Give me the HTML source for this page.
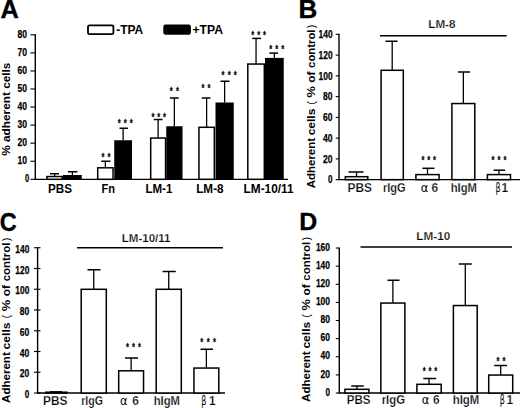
<!DOCTYPE html>
<html><head><meta charset="utf-8"><title>Figure</title>
<style>
html,body{margin:0;padding:0;background:#fff;}
body{width:520px;height:408px;overflow:hidden;}
svg{display:block;}
text{font-family:"Liberation Sans",sans-serif;fill:#000;stroke:none;}
.tk{stroke:#000;stroke-width:0.25px;}
.st{stroke:#000;stroke-width:0.25px;stroke-linejoin:round;}
.big{stroke:#000;stroke-width:0.35px;}
.lt{stroke:#fff;stroke-width:0.25px;}
</style></head><body>
<svg width="520" height="408" viewBox="0 0 520 408">
<rect x="0" y="0" width="520" height="408" fill="#fff"/>
<text x="0.5" y="17.7" font-size="26" font-weight="bold" text-anchor="start" textLength="18.3" lengthAdjust="spacingAndGlyphs" class="big">A</text>
<line x1="35.3" y1="34.32" x2="35.3" y2="180.0" stroke="#000" stroke-width="1.4"/>
<line x1="34.699999999999996" y1="179.3" x2="288" y2="179.3" stroke="#000" stroke-width="1.35"/>
<line x1="30.4" y1="179.3" x2="35.3" y2="179.3" stroke="#000" stroke-width="1.1"/>
<text x="29.1" y="182.22" font-size="10.4" font-weight="bold" text-anchor="end" textLength="4.2" lengthAdjust="spacingAndGlyphs" class="tk">0</text>
<line x1="30.4" y1="161.24" x2="35.3" y2="161.24" stroke="#000" stroke-width="1.1"/>
<text x="27.1" y="164.46" font-size="10.4" font-weight="bold" text-anchor="end" textLength="9.5" lengthAdjust="spacingAndGlyphs" class="tk">10</text>
<line x1="30.4" y1="143.18" x2="35.3" y2="143.18" stroke="#000" stroke-width="1.1"/>
<text x="27.1" y="146.4" font-size="10.4" font-weight="bold" text-anchor="end" textLength="9.5" lengthAdjust="spacingAndGlyphs" class="tk">20</text>
<line x1="30.4" y1="125.12" x2="35.3" y2="125.12" stroke="#000" stroke-width="1.1"/>
<text x="27.1" y="128.34" font-size="10.4" font-weight="bold" text-anchor="end" textLength="9.5" lengthAdjust="spacingAndGlyphs" class="tk">30</text>
<line x1="30.4" y1="107.06" x2="35.3" y2="107.06" stroke="#000" stroke-width="1.1"/>
<text x="27.1" y="110.28" font-size="10.4" font-weight="bold" text-anchor="end" textLength="9.5" lengthAdjust="spacingAndGlyphs" class="tk">40</text>
<line x1="30.4" y1="89.0" x2="35.3" y2="89.0" stroke="#000" stroke-width="1.1"/>
<text x="27.1" y="92.22" font-size="10.4" font-weight="bold" text-anchor="end" textLength="9.5" lengthAdjust="spacingAndGlyphs" class="tk">50</text>
<line x1="30.4" y1="70.94" x2="35.3" y2="70.94" stroke="#000" stroke-width="1.1"/>
<text x="27.1" y="74.16" font-size="10.4" font-weight="bold" text-anchor="end" textLength="9.5" lengthAdjust="spacingAndGlyphs" class="tk">60</text>
<line x1="30.4" y1="52.88" x2="35.3" y2="52.88" stroke="#000" stroke-width="1.1"/>
<text x="27.1" y="56.1" font-size="10.4" font-weight="bold" text-anchor="end" textLength="9.5" lengthAdjust="spacingAndGlyphs" class="tk">70</text>
<line x1="30.4" y1="34.82" x2="35.3" y2="34.82" stroke="#000" stroke-width="1.1"/>
<text x="27.1" y="38.04" font-size="10.4" font-weight="bold" text-anchor="end" textLength="9.5" lengthAdjust="spacingAndGlyphs" class="tk">80</text>
<text transform="translate(10.0,109.2) rotate(-90)" font-size="11.7" font-weight="bold" text-anchor="middle" textLength="93.2" lengthAdjust="spacingAndGlyphs">% adherent cells</text>
<rect x="88" y="25.3" width="25.4" height="8.9" rx="1.5" fill="#fff" stroke="#000" stroke-width="1.8"/>
<text x="116.2" y="34.2" font-size="12" font-weight="bold" text-anchor="start" textLength="27" lengthAdjust="spacingAndGlyphs">-TPA</text>
<rect x="164" y="25.2" width="26.2" height="8.8" rx="1.5" fill="#000" stroke="#000" stroke-width="1.4"/>
<text x="192.5" y="34.2" font-size="12" font-weight="bold" text-anchor="start" textLength="30.5" lengthAdjust="spacingAndGlyphs">+TPA</text>
<line x1="54.62" y1="173.75" x2="54.62" y2="176.25" stroke="#000" stroke-width="1.3"/>
<line x1="50" y1="173.75" x2="59" y2="173.75" stroke="#000" stroke-width="1.5"/>
<rect x="46.95" y="176.55" width="15.35" height="2.75" rx="0" fill="#fff" stroke="#000" stroke-width="1.5"/>
<line x1="72.38" y1="171.75" x2="72.38" y2="175" stroke="#000" stroke-width="1.3"/>
<line x1="68" y1="171.75" x2="77.5" y2="171.75" stroke="#000" stroke-width="1.5"/>
<rect x="63" y="175" width="18.75" height="4.3" fill="#000"/>
<line x1="105.38" y1="161.25" x2="105.38" y2="167.5" stroke="#000" stroke-width="1.3"/>
<line x1="101.25" y1="161.25" x2="110.5" y2="161.25" stroke="#000" stroke-width="1.5"/>
<rect x="97.7" y="167.8" width="15.35" height="11.5" rx="0" fill="#fff" stroke="#000" stroke-width="1.5"/>
<line x1="123.12" y1="128.25" x2="123.12" y2="140.25" stroke="#000" stroke-width="1.3"/>
<line x1="119.5" y1="128.25" x2="128" y2="128.25" stroke="#000" stroke-width="1.5"/>
<rect x="114.25" y="140.25" width="17.75" height="39.05" fill="#000"/>
<line x1="158.12" y1="119.5" x2="158.12" y2="137.75" stroke="#000" stroke-width="1.3"/>
<line x1="153.75" y1="119.5" x2="162.5" y2="119.5" stroke="#000" stroke-width="1.5"/>
<rect x="150.7" y="138.05" width="14.85" height="41.25" rx="0" fill="#fff" stroke="#000" stroke-width="1.5"/>
<line x1="174.38" y1="98" x2="174.38" y2="126.25" stroke="#000" stroke-width="1.3"/>
<line x1="170" y1="98" x2="178.75" y2="98" stroke="#000" stroke-width="1.5"/>
<rect x="166.25" y="126.25" width="16.25" height="53.05" fill="#000"/>
<line x1="206.62" y1="98" x2="206.62" y2="127" stroke="#000" stroke-width="1.3"/>
<line x1="201.75" y1="98" x2="210.5" y2="98" stroke="#000" stroke-width="1.5"/>
<rect x="198.95" y="127.3" width="15.35" height="52.0" rx="0" fill="#fff" stroke="#000" stroke-width="1.5"/>
<line x1="224.62" y1="81.25" x2="224.62" y2="102.5" stroke="#000" stroke-width="1.3"/>
<line x1="220.5" y1="81.25" x2="229.5" y2="81.25" stroke="#000" stroke-width="1.5"/>
<rect x="215.5" y="102.5" width="18.25" height="76.8" fill="#000"/>
<line x1="256.05" y1="38.4" x2="256.05" y2="63.75" stroke="#000" stroke-width="1.3"/>
<line x1="252.25" y1="38.4" x2="261" y2="38.4" stroke="#000" stroke-width="1.5"/>
<rect x="247.8" y="64.05" width="16.5" height="115.25" rx="0" fill="#fff" stroke="#000" stroke-width="1.5"/>
<line x1="274.38" y1="53.1" x2="274.38" y2="57.9" stroke="#000" stroke-width="1.3"/>
<line x1="269.4" y1="53.1" x2="278.1" y2="53.1" stroke="#000" stroke-width="1.5"/>
<rect x="265" y="57.9" width="18.75" height="121.4" fill="#000"/>
<text transform="scale(0.66,1)" x="155.98 165.23" y="161.35" font-size="11.5" font-weight="bold" text-anchor="middle" class="st">**</text>
<text transform="scale(0.66,1)" x="180.61 189.77 198.94" y="127.1" font-size="11.5" font-weight="bold" text-anchor="middle" class="st">***</text>
<text transform="scale(0.66,1)" x="231.74 240.53 249.32" y="120.6" font-size="11.5" font-weight="bold" text-anchor="middle" class="st">***</text>
<text transform="scale(0.66,1)" x="259.39 269.02" y="95.1" font-size="11.5" font-weight="bold" text-anchor="middle" class="st">**</text>
<text transform="scale(0.66,1)" x="307.5 316.74" y="91.85" font-size="11.5" font-weight="bold" text-anchor="middle" class="st">**</text>
<text transform="scale(0.66,1)" x="337.8 347.16 356.52" y="79.35" font-size="11.5" font-weight="bold" text-anchor="middle" class="st">***</text>
<text transform="scale(0.66,1)" x="382.88 391.86 400.83" y="38.7" font-size="11.5" font-weight="bold" text-anchor="middle" class="st">***</text>
<text transform="scale(0.66,1)" x="410.15 419.32 428.48" y="52.9" font-size="11.5" font-weight="bold" text-anchor="middle" class="st">***</text>
<text x="48" y="192.7" font-size="12" font-weight="bold" text-anchor="start" textLength="24" lengthAdjust="spacingAndGlyphs">PBS</text>
<text x="101.5" y="192.7" font-size="12" font-weight="bold" text-anchor="start" textLength="13.5" lengthAdjust="spacingAndGlyphs">Fn</text>
<text x="145.4" y="192.7" font-size="12" font-weight="bold" text-anchor="start" textLength="27" lengthAdjust="spacingAndGlyphs">LM-1</text>
<text x="196.2" y="192.7" font-size="12" font-weight="bold" text-anchor="start" textLength="27.4" lengthAdjust="spacingAndGlyphs">LM-8</text>
<text x="243.6" y="192.7" font-size="12" font-weight="bold" text-anchor="start" textLength="50" lengthAdjust="spacingAndGlyphs">LM-10/11</text>
<text x="298.4" y="17.6" font-size="26" font-weight="bold" text-anchor="start" textLength="18.8" lengthAdjust="spacingAndGlyphs" class="big">B</text>
<line x1="339.0" y1="33.83" x2="339.0" y2="180.25" stroke="#000" stroke-width="1.4"/>
<line x1="338.4" y1="179.65" x2="520" y2="179.65" stroke="#000" stroke-width="1.4"/>
<line x1="335.7" y1="179.65" x2="339.0" y2="179.65" stroke="#000" stroke-width="1.1"/>
<text x="332.6" y="183.37" font-size="10.4" font-weight="bold" text-anchor="end" textLength="4.5" lengthAdjust="spacingAndGlyphs" class="tk">0</text>
<line x1="335.7" y1="158.89" x2="339.0" y2="158.89" stroke="#000" stroke-width="1.1"/>
<text x="332.6" y="162.61" font-size="10.4" font-weight="bold" text-anchor="end" textLength="9.5" lengthAdjust="spacingAndGlyphs" class="tk">20</text>
<line x1="335.7" y1="138.13" x2="339.0" y2="138.13" stroke="#000" stroke-width="1.1"/>
<text x="332.6" y="141.85" font-size="10.4" font-weight="bold" text-anchor="end" textLength="9.5" lengthAdjust="spacingAndGlyphs" class="tk">40</text>
<line x1="335.7" y1="117.37" x2="339.0" y2="117.37" stroke="#000" stroke-width="1.1"/>
<text x="332.6" y="121.09" font-size="10.4" font-weight="bold" text-anchor="end" textLength="9.5" lengthAdjust="spacingAndGlyphs" class="tk">60</text>
<line x1="335.7" y1="96.61" x2="339.0" y2="96.61" stroke="#000" stroke-width="1.1"/>
<text x="332.6" y="100.33" font-size="10.4" font-weight="bold" text-anchor="end" textLength="9.5" lengthAdjust="spacingAndGlyphs" class="tk">80</text>
<line x1="335.7" y1="75.85" x2="339.0" y2="75.85" stroke="#000" stroke-width="1.1"/>
<text x="332.6" y="79.57" font-size="10.4" font-weight="bold" text-anchor="end" textLength="14.0" lengthAdjust="spacingAndGlyphs" class="tk">100</text>
<line x1="335.7" y1="55.09" x2="339.0" y2="55.09" stroke="#000" stroke-width="1.1"/>
<text x="332.6" y="58.81" font-size="10.4" font-weight="bold" text-anchor="end" textLength="14.0" lengthAdjust="spacingAndGlyphs" class="tk">120</text>
<line x1="335.7" y1="34.33" x2="339.0" y2="34.33" stroke="#000" stroke-width="1.1"/>
<text x="332.6" y="38.05" font-size="10.4" font-weight="bold" text-anchor="end" textLength="14.0" lengthAdjust="spacingAndGlyphs" class="tk">140</text>
<text transform="translate(314.75,0) rotate(-90)" font-size="11.7" font-weight="bold"><tspan x="-188.2" textLength="50.2" lengthAdjust="spacingAndGlyphs" font-weight="bold" font-size="11.7">Adherent</tspan><tspan x="-135.35" textLength="26.75" lengthAdjust="spacingAndGlyphs" font-weight="bold" font-size="11.7">cells</tspan><tspan x="-102.85" text-anchor="middle" font-weight="normal" font-size="10.8">(</tspan><tspan x="-97.6" textLength="11.4" lengthAdjust="spacingAndGlyphs" font-weight="bold" font-size="11.7">%</tspan><tspan x="-82.7" textLength="11.2" lengthAdjust="spacingAndGlyphs" font-weight="bold" font-size="11.7">of</tspan><tspan x="-67.9" textLength="38.4" lengthAdjust="spacingAndGlyphs" font-weight="bold" font-size="11.7">control</tspan><tspan x="-26.35" text-anchor="middle" font-weight="normal" font-size="10.8">)</tspan></text>
<text x="428.25" y="28" font-size="11.5" font-weight="bold" text-anchor="start" textLength="27.25" lengthAdjust="spacingAndGlyphs" class="lt">LM-8</text>
<line x1="380" y1="35.75" x2="506.75" y2="35.75" stroke="#000" stroke-width="1.3"/>
<line x1="356.55" y1="172" x2="356.55" y2="176.4" stroke="#000" stroke-width="1.3"/>
<line x1="348.5" y1="172" x2="363.5" y2="172" stroke="#000" stroke-width="1.5"/>
<rect x="345.3" y="176.7" width="22.5" height="2.95" rx="0" fill="#fff" stroke="#000" stroke-width="1.5"/>
<line x1="392.2" y1="41.25" x2="392.2" y2="70" stroke="#000" stroke-width="1.3"/>
<line x1="385.5" y1="41.25" x2="397.5" y2="41.25" stroke="#000" stroke-width="1.5"/>
<rect x="381.1" y="70.3" width="22.2" height="109.35" rx="0" fill="#fff" stroke="#000" stroke-width="1.5"/>
<line x1="427.5" y1="168.3" x2="427.5" y2="174.3" stroke="#000" stroke-width="1.3"/>
<line x1="422.4" y1="168.3" x2="434.5" y2="168.3" stroke="#000" stroke-width="1.5"/>
<rect x="415.9" y="174.6" width="23.2" height="5.05" rx="0" fill="#fff" stroke="#000" stroke-width="1.5"/>
<line x1="463.35" y1="72" x2="463.35" y2="103.25" stroke="#000" stroke-width="1.3"/>
<line x1="458" y1="72" x2="470" y2="72" stroke="#000" stroke-width="1.5"/>
<rect x="451.9" y="103.55" width="22.9" height="76.1" rx="0" fill="#fff" stroke="#000" stroke-width="1.5"/>
<line x1="498.95" y1="170.2" x2="498.95" y2="174.3" stroke="#000" stroke-width="1.3"/>
<line x1="493.6" y1="170.2" x2="505.2" y2="170.2" stroke="#000" stroke-width="1.5"/>
<rect x="487.4" y="174.6" width="23.1" height="5.05" rx="0" fill="#fff" stroke="#000" stroke-width="1.5"/>
<text transform="scale(0.66,1)" x="640.83 649.62 658.41" y="164.5" font-size="11.5" font-weight="bold" text-anchor="middle" class="st">***</text>
<text transform="scale(0.66,1)" x="746.89 756.06 765.23" y="164.5" font-size="11.5" font-weight="bold" text-anchor="middle" class="st">***</text>
<text x="347.5" y="191.8" font-size="12" font-weight="bold" text-anchor="start" textLength="24.5" lengthAdjust="spacingAndGlyphs" class="lt">PBS</text>
<text x="383" y="191.8" font-size="12" font-weight="bold" text-anchor="start" textLength="22.5" lengthAdjust="spacingAndGlyphs" class="lt">rIgG</text>
<text x="420.8" y="191.8" font-size="11.5" font-weight="normal" style="font-family:'DejaVu Sans',sans-serif" textLength="7.6" lengthAdjust="spacingAndGlyphs">α</text>
<text x="431.6" y="191.8" font-size="12" font-weight="bold" text-anchor="start" textLength="6.6" lengthAdjust="spacingAndGlyphs" class="lt">6</text>
<text x="450.75" y="191.8" font-size="12" font-weight="bold" text-anchor="start" textLength="26.25" lengthAdjust="spacingAndGlyphs" class="lt">hIgM</text>
<text x="495.4" y="191.8" font-size="11.5" font-weight="normal" style="font-family:'DejaVu Sans',sans-serif" textLength="5.1" lengthAdjust="spacingAndGlyphs">β</text>
<text x="501.6" y="191.8" font-size="12" font-weight="bold" text-anchor="start" textLength="6.6" lengthAdjust="spacingAndGlyphs" class="lt">1</text>
<text x="-0.3" y="230.6" font-size="26" font-weight="bold" text-anchor="start" textLength="16.9" lengthAdjust="spacingAndGlyphs" class="big">C</text>
<line x1="37.6" y1="247.25" x2="37.6" y2="393.6" stroke="#000" stroke-width="1.4"/>
<line x1="37.0" y1="393" x2="225" y2="393" stroke="#000" stroke-width="1.4"/>
<line x1="34.0" y1="393.0" x2="40.5" y2="393.0" stroke="#000" stroke-width="1.1"/>
<text x="29.3" y="398.12" font-size="10.4" font-weight="bold" text-anchor="end" textLength="4.5" lengthAdjust="spacingAndGlyphs" class="tk">0</text>
<line x1="34.0" y1="372.25" x2="40.5" y2="372.25" stroke="#000" stroke-width="1.1"/>
<text x="29.3" y="377.37" font-size="10.4" font-weight="bold" text-anchor="end" textLength="9.5" lengthAdjust="spacingAndGlyphs" class="tk">20</text>
<line x1="34.0" y1="351.5" x2="40.5" y2="351.5" stroke="#000" stroke-width="1.1"/>
<text x="29.3" y="356.62" font-size="10.4" font-weight="bold" text-anchor="end" textLength="9.5" lengthAdjust="spacingAndGlyphs" class="tk">40</text>
<line x1="34.0" y1="330.75" x2="40.5" y2="330.75" stroke="#000" stroke-width="1.1"/>
<text x="29.3" y="335.87" font-size="10.4" font-weight="bold" text-anchor="end" textLength="9.5" lengthAdjust="spacingAndGlyphs" class="tk">60</text>
<line x1="34.0" y1="310.0" x2="40.5" y2="310.0" stroke="#000" stroke-width="1.1"/>
<text x="29.3" y="315.12" font-size="10.4" font-weight="bold" text-anchor="end" textLength="9.5" lengthAdjust="spacingAndGlyphs" class="tk">80</text>
<line x1="34.0" y1="289.25" x2="40.5" y2="289.25" stroke="#000" stroke-width="1.1"/>
<text x="29.3" y="294.37" font-size="10.4" font-weight="bold" text-anchor="end" textLength="14.0" lengthAdjust="spacingAndGlyphs" class="tk">100</text>
<line x1="34.0" y1="268.5" x2="40.5" y2="268.5" stroke="#000" stroke-width="1.1"/>
<text x="29.3" y="273.62" font-size="10.4" font-weight="bold" text-anchor="end" textLength="14.0" lengthAdjust="spacingAndGlyphs" class="tk">120</text>
<line x1="34.0" y1="247.75" x2="40.5" y2="247.75" stroke="#000" stroke-width="1.1"/>
<text x="29.3" y="252.87" font-size="10.4" font-weight="bold" text-anchor="end" textLength="14.0" lengthAdjust="spacingAndGlyphs" class="tk">140</text>
<text transform="translate(9.6,0) rotate(-90)" font-size="11.7" font-weight="bold"><tspan x="-402.95" textLength="50.73" lengthAdjust="spacingAndGlyphs" font-weight="bold" font-size="11.7">Adherent</tspan><tspan x="-349.53" textLength="27.03" lengthAdjust="spacingAndGlyphs" font-weight="bold" font-size="11.7">cells</tspan><tspan x="-316.69" text-anchor="middle" font-weight="normal" font-size="10.8">(</tspan><tspan x="-311.38" textLength="11.51" lengthAdjust="spacingAndGlyphs" font-weight="bold" font-size="11.7">%</tspan><tspan x="-296.32" textLength="11.31" lengthAdjust="spacingAndGlyphs" font-weight="bold" font-size="11.7">of</tspan><tspan x="-281.36" textLength="38.8" lengthAdjust="spacingAndGlyphs" font-weight="bold" font-size="11.7">control</tspan><tspan x="-239.37" text-anchor="middle" font-weight="normal" font-size="10.8">)</tspan></text>
<text x="121.75" y="242" font-size="11.5" font-weight="bold" text-anchor="start" textLength="48.75" lengthAdjust="spacingAndGlyphs" class="lt">LM-10/11</text>
<line x1="77" y1="247.75" x2="223" y2="247.75" stroke="#000" stroke-width="1.3"/>
<line x1="56.25" y1="391.9" x2="56.25" y2="391.9" stroke="#000" stroke-width="1.3"/>
<line x1="50" y1="391.9" x2="62" y2="391.9" stroke="#000" stroke-width="1.5"/>
<rect x="45.7" y="392.2" width="21.1" height="0.8" rx="0" fill="#fff" stroke="#000" stroke-width="1.5"/>
<line x1="93.75" y1="269.75" x2="93.75" y2="289" stroke="#000" stroke-width="1.3"/>
<line x1="87.5" y1="269.75" x2="100.5" y2="269.75" stroke="#000" stroke-width="1.5"/>
<rect x="81.2" y="289.3" width="25.1" height="103.7" rx="0" fill="#fff" stroke="#000" stroke-width="1.5"/>
<line x1="131.12" y1="358" x2="131.12" y2="370.5" stroke="#000" stroke-width="1.3"/>
<line x1="125" y1="358" x2="138" y2="358" stroke="#000" stroke-width="1.5"/>
<rect x="118.7" y="370.8" width="24.85" height="22.2" rx="0" fill="#fff" stroke="#000" stroke-width="1.5"/>
<line x1="168.75" y1="271.5" x2="168.75" y2="289" stroke="#000" stroke-width="1.3"/>
<line x1="162.5" y1="271.5" x2="175.75" y2="271.5" stroke="#000" stroke-width="1.5"/>
<rect x="156.2" y="289.3" width="25.1" height="103.7" rx="0" fill="#fff" stroke="#000" stroke-width="1.5"/>
<line x1="206.38" y1="349.25" x2="206.38" y2="367.75" stroke="#000" stroke-width="1.3"/>
<line x1="200.5" y1="349.25" x2="213" y2="349.25" stroke="#000" stroke-width="1.5"/>
<rect x="193.95" y="368.05" width="24.85" height="24.95" rx="0" fill="#fff" stroke="#000" stroke-width="1.5"/>
<text transform="scale(0.66,1)" x="193.11 202.27 211.44" y="351.1" font-size="11.5" font-weight="bold" text-anchor="middle" class="st">***</text>
<text transform="scale(0.66,1)" x="305.61 315.34 325.08" y="345.7" font-size="11.5" font-weight="bold" text-anchor="middle" class="st">***</text>
<text x="43" y="404.6" font-size="12" font-weight="bold" text-anchor="start" textLength="24.5" lengthAdjust="spacingAndGlyphs" class="lt">PBS</text>
<text x="81.25" y="404.6" font-size="12" font-weight="bold" text-anchor="start" textLength="21.75" lengthAdjust="spacingAndGlyphs" class="lt">rIgG</text>
<text x="120" y="404.6" font-size="11.5" font-weight="normal" style="font-family:'DejaVu Sans',sans-serif" textLength="7.6" lengthAdjust="spacingAndGlyphs">α</text>
<text x="132.35" y="404.6" font-size="12" font-weight="bold" text-anchor="start" textLength="6.6" lengthAdjust="spacingAndGlyphs" class="lt">6</text>
<text x="153.75" y="404.6" font-size="12" font-weight="bold" text-anchor="start" textLength="26.25" lengthAdjust="spacingAndGlyphs" class="lt">hIgM</text>
<text x="201.25" y="404.6" font-size="11.5" font-weight="normal" style="font-family:'DejaVu Sans',sans-serif" textLength="5.1" lengthAdjust="spacingAndGlyphs">β</text>
<text x="209.1" y="404.6" font-size="12" font-weight="bold" text-anchor="start" textLength="6.6" lengthAdjust="spacingAndGlyphs" class="lt">1</text>
<text x="299.3" y="230.3" font-size="24.3" font-weight="bold" text-anchor="start" textLength="18.0" lengthAdjust="spacingAndGlyphs" class="big">D</text>
<line x1="339.3" y1="247.54" x2="339.3" y2="393.6" stroke="#000" stroke-width="1.4"/>
<line x1="338.7" y1="393.0" x2="520" y2="393.0" stroke="#000" stroke-width="1.4"/>
<line x1="335.8" y1="393.0" x2="339.3" y2="393.0" stroke="#000" stroke-width="1.1"/>
<text x="329.9" y="395.62" font-size="10.4" font-weight="bold" text-anchor="end" textLength="4.5" lengthAdjust="spacingAndGlyphs" class="tk">0</text>
<line x1="335.8" y1="374.88" x2="339.3" y2="374.88" stroke="#000" stroke-width="1.1"/>
<text x="329.9" y="377.5" font-size="10.4" font-weight="bold" text-anchor="end" textLength="9.5" lengthAdjust="spacingAndGlyphs" class="tk">20</text>
<line x1="335.8" y1="356.76" x2="339.3" y2="356.76" stroke="#000" stroke-width="1.1"/>
<text x="329.9" y="359.38" font-size="10.4" font-weight="bold" text-anchor="end" textLength="9.5" lengthAdjust="spacingAndGlyphs" class="tk">40</text>
<line x1="335.8" y1="338.64" x2="339.3" y2="338.64" stroke="#000" stroke-width="1.1"/>
<text x="329.9" y="341.26" font-size="10.4" font-weight="bold" text-anchor="end" textLength="9.5" lengthAdjust="spacingAndGlyphs" class="tk">60</text>
<line x1="335.8" y1="320.52" x2="339.3" y2="320.52" stroke="#000" stroke-width="1.1"/>
<text x="329.9" y="323.14" font-size="10.4" font-weight="bold" text-anchor="end" textLength="9.5" lengthAdjust="spacingAndGlyphs" class="tk">80</text>
<line x1="335.8" y1="302.4" x2="339.3" y2="302.4" stroke="#000" stroke-width="1.1"/>
<text x="329.9" y="305.02" font-size="10.4" font-weight="bold" text-anchor="end" textLength="14.0" lengthAdjust="spacingAndGlyphs" class="tk">100</text>
<line x1="335.8" y1="284.28" x2="339.3" y2="284.28" stroke="#000" stroke-width="1.1"/>
<text x="329.9" y="286.9" font-size="10.4" font-weight="bold" text-anchor="end" textLength="14.0" lengthAdjust="spacingAndGlyphs" class="tk">120</text>
<line x1="335.8" y1="266.16" x2="339.3" y2="266.16" stroke="#000" stroke-width="1.1"/>
<text x="329.9" y="268.78" font-size="10.4" font-weight="bold" text-anchor="end" textLength="14.0" lengthAdjust="spacingAndGlyphs" class="tk">140</text>
<line x1="335.8" y1="248.04" x2="339.3" y2="248.04" stroke="#000" stroke-width="1.1"/>
<text x="329.9" y="250.66" font-size="10.4" font-weight="bold" text-anchor="end" textLength="14.0" lengthAdjust="spacingAndGlyphs" class="tk">160</text>
<text transform="translate(309.5,0) rotate(-90)" font-size="11.7" font-weight="bold"><tspan x="-401.9" textLength="50.59" lengthAdjust="spacingAndGlyphs" font-weight="bold" font-size="11.7">Adherent</tspan><tspan x="-348.63" textLength="26.96" lengthAdjust="spacingAndGlyphs" font-weight="bold" font-size="11.7">cells</tspan><tspan x="-315.87" text-anchor="middle" font-weight="normal" font-size="10.8">(</tspan><tspan x="-310.58" textLength="11.48" lengthAdjust="spacingAndGlyphs" font-weight="bold" font-size="11.7">%</tspan><tspan x="-295.56" textLength="11.28" lengthAdjust="spacingAndGlyphs" font-weight="bold" font-size="11.7">of</tspan><tspan x="-280.64" textLength="38.7" lengthAdjust="spacingAndGlyphs" font-weight="bold" font-size="11.7">control</tspan><tspan x="-238.76" text-anchor="middle" font-weight="normal" font-size="10.8">)</tspan></text>
<text x="416.3" y="240.3" font-size="11.5" font-weight="bold" text-anchor="start" textLength="33.9" lengthAdjust="spacingAndGlyphs" class="lt">LM-10</text>
<line x1="360.5" y1="247" x2="512" y2="247" stroke="#000" stroke-width="1.3"/>
<line x1="356.92" y1="386" x2="356.92" y2="389" stroke="#000" stroke-width="1.3"/>
<line x1="351.25" y1="386" x2="363.75" y2="386" stroke="#000" stroke-width="1.5"/>
<rect x="344.9" y="389.3" width="24.05" height="3.7" rx="0" fill="#fff" stroke="#000" stroke-width="1.5"/>
<line x1="392.88" y1="280.25" x2="392.88" y2="302.75" stroke="#000" stroke-width="1.3"/>
<line x1="387.5" y1="280.25" x2="399.5" y2="280.25" stroke="#000" stroke-width="1.5"/>
<rect x="380.85" y="303.05" width="24.05" height="89.95" rx="0" fill="#fff" stroke="#000" stroke-width="1.5"/>
<line x1="429.05" y1="378.5" x2="429.05" y2="384" stroke="#000" stroke-width="1.3"/>
<line x1="423.25" y1="378.5" x2="436.25" y2="378.5" stroke="#000" stroke-width="1.5"/>
<rect x="416.9" y="384.3" width="24.3" height="8.7" rx="0" fill="#fff" stroke="#000" stroke-width="1.5"/>
<line x1="465.3" y1="264" x2="465.3" y2="305.25" stroke="#000" stroke-width="1.3"/>
<line x1="458.75" y1="264" x2="471.75" y2="264" stroke="#000" stroke-width="1.5"/>
<rect x="453.4" y="305.55" width="23.8" height="87.45" rx="0" fill="#fff" stroke="#000" stroke-width="1.5"/>
<line x1="500.7" y1="365.5" x2="500.7" y2="374.75" stroke="#000" stroke-width="1.3"/>
<line x1="494.25" y1="365.5" x2="507" y2="365.5" stroke="#000" stroke-width="1.5"/>
<rect x="488.7" y="375.05" width="24.0" height="17.95" rx="0" fill="#fff" stroke="#000" stroke-width="1.5"/>
<text transform="scale(0.66,1)" x="642.73 651.52 660.3" y="375.35" font-size="11.5" font-weight="bold" text-anchor="middle" class="st">***</text>
<text transform="scale(0.66,1)" x="754.47 763.71" y="365.35" font-size="11.5" font-weight="bold" text-anchor="middle" class="st">**</text>
<text x="346.75" y="404.2" font-size="12" font-weight="bold" text-anchor="start" textLength="23.75" lengthAdjust="spacingAndGlyphs" class="lt">PBS</text>
<text x="381.7" y="404.2" font-size="12" font-weight="bold" text-anchor="start" textLength="23.3" lengthAdjust="spacingAndGlyphs" class="lt">rIgG</text>
<text x="421.8" y="404.2" font-size="11.5" font-weight="normal" style="font-family:'DejaVu Sans',sans-serif" textLength="7.6" lengthAdjust="spacingAndGlyphs">α</text>
<text x="433.0" y="404.2" font-size="12" font-weight="bold" text-anchor="start" textLength="6.6" lengthAdjust="spacingAndGlyphs" class="lt">6</text>
<text x="452.7" y="404.2" font-size="12" font-weight="bold" text-anchor="start" textLength="26.6" lengthAdjust="spacingAndGlyphs" class="lt">hIgM</text>
<text x="499.8" y="404.2" font-size="11.5" font-weight="normal" style="font-family:'DejaVu Sans',sans-serif" textLength="5.1" lengthAdjust="spacingAndGlyphs">β</text>
<text x="506.6" y="404.2" font-size="12" font-weight="bold" text-anchor="start" textLength="6.6" lengthAdjust="spacingAndGlyphs" class="lt">1</text>
</svg>
</body></html>
